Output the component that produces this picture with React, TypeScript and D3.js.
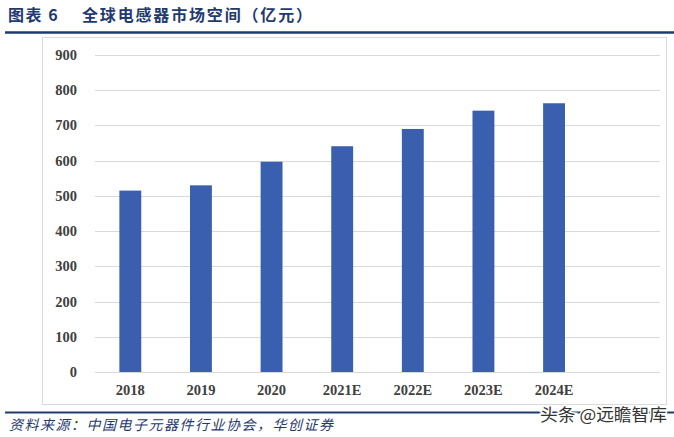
import React from "react";
import * as d3 from "d3";

const categories = ["2018", "2019", "2020", "2021E", "2022E", "2023E", "2024E", ""];
const values = [515, 530, 597, 641, 690, 742, 763, null];
const yTicks = [0, 100, 200, 300, 400, 500, 600, 700, 800, 900];
const titleA = "图表 6";
const titleB = "全球电感器市场空间（亿元）";
const source = "资料来源：中国电子元器件行业协会，华创证券";
const watermark = "头条 @远瞻智库";

export default function App() {
  const W = 674, H = 437;
  const x = d3.scaleBand<string>().domain(categories).range([95, 660]).paddingInner(0.69).paddingOuter(0.345);
  const y = d3.scaleLinear().domain([0, 900]).range([372, 55]);
  const serif = "'Liberation Serif', 'Times New Roman', serif";
  const cjk = "'Noto Sans CJK SC', sans-serif";
  return (
    <svg width={W} height={H} style={{ position: "absolute", left: 0, top: 0, background: "#fff" }}>
      <text x={8} y={21} fontFamily={cjk} fontWeight={700} fontSize={16} fill="#1f3a6e" letterSpacing={1.5}>{titleA}</text>
      <text x={82} y={21} fontFamily={cjk} fontWeight={700} fontSize={16} fill="#1f3a6e" textLength={230} lengthAdjust="spacing">{titleB}</text>
      <line x1={5} x2={674} y1={32.5} y2={32.5} stroke="#1f3a6e" strokeWidth={2.5} />
      <rect x={42.5} y={37.5} width={624} height={367} fill="none" stroke="#d9d9d9" strokeWidth={1} />
      {yTicks.map(t => (
        <g key={t}>
          <line x1={95} x2={660} y1={Math.round(y(t)) + 0.5} y2={Math.round(y(t)) + 0.5} stroke="#d9d9d9" strokeWidth={1.2} />
          <text x={77} y={y(t) + 5} textAnchor="end" fontFamily={serif} fontWeight={700} fontSize={14.5} fill="#404040">{t}</text>
        </g>
      ))}
      {categories.map((c, i) => values[i] == null ? null : (
        <rect key={c} x={x(c)} y={y(values[i] as number)} width={x.bandwidth()} height={y(0) - y(values[i] as number)} fill="#3a5fae" />
      ))}
      {categories.map(c => c ? (
        <text key={c} x={(x(c) as number) + x.bandwidth() / 2} y={395} textAnchor="middle" fontFamily={serif} fontWeight={700} fontSize={14.5} fill="#404040">{c}</text>
      ) : null)}
      <line x1={5} x2={674} y1={412.5} y2={412.5} stroke="#1f3a6e" strokeWidth={2} />
      <text x={9} y={430} fontFamily={cjk} fontStyle="italic" fontSize={14} fill="#1f3a6e" textLength={324} lengthAdjust="spacing">{source}</text>
      <text x={540} y={421} fontFamily={cjk} fontSize={17} fill="#333" stroke="#fff" strokeWidth={3} paintOrder="stroke" textLength={127} lengthAdjust="spacingAndGlyphs">{watermark}</text>
    </svg>
  );
}
